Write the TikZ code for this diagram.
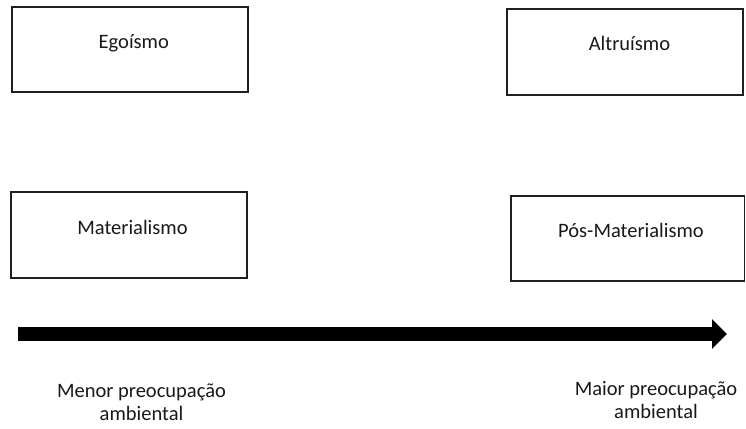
\documentclass[tikz,border=0pt]{standalone}
\usepackage{fontspec}
\setmainfont{Carlito}
\usetikzlibrary{arrows.meta}
\begin{document}
\begin{tikzpicture}[x=1pt,y=-1pt,
  box/.style={draw=black!88,line width=1.3pt,rectangle,inner sep=0pt,outer sep=0pt},
  lbl/.style={font=\fontsize{20.5pt}{22.5pt}\selectfont,anchor=base,inner sep=0pt,text=black!90},
  bigarrow/.style={line width=14pt,-{Triangle[length=15pt,width=29pt]}}]
\useasboundingbox[fill=white] (0,0) rectangle (746,428);
\node[box,minimum width=236pt,minimum height=85pt] (ego) at (130,49.5) {};
\node[box,minimum width=236pt,minimum height=86pt] (alt) at (625,52) {};
\node[box,minimum width=236pt,minimum height=86pt] (mat) at (129,235) {};
\node[box,minimum width=233.5pt,minimum height=85pt] (pos) at (627.75,238.5) {};
\node[lbl] (tego) at (133.8,48.3) {Egoísmo};
\node[lbl] (talt) at (629.5,50.8) {Altruísmo};
\node[lbl] (tmat) at (132.5,234) {Materialismo};
\node[lbl] (tpos) at (631,237) {Pós-Materialismo};
\node[lbl] (men1) at (141.5,397.7) {Menor preocupação};
\node[lbl] (men2) at (141.5,420) {ambiental};
\node[lbl] (mai1) at (656,395) {Maior preocupação};
\node[lbl] (mai2) at (656,418) {ambiental};
\coordinate (as) at (18,334);
\coordinate (ae) at (727,334);
\draw[bigarrow] (as) -- (ae);
\end{tikzpicture}
\end{document}
